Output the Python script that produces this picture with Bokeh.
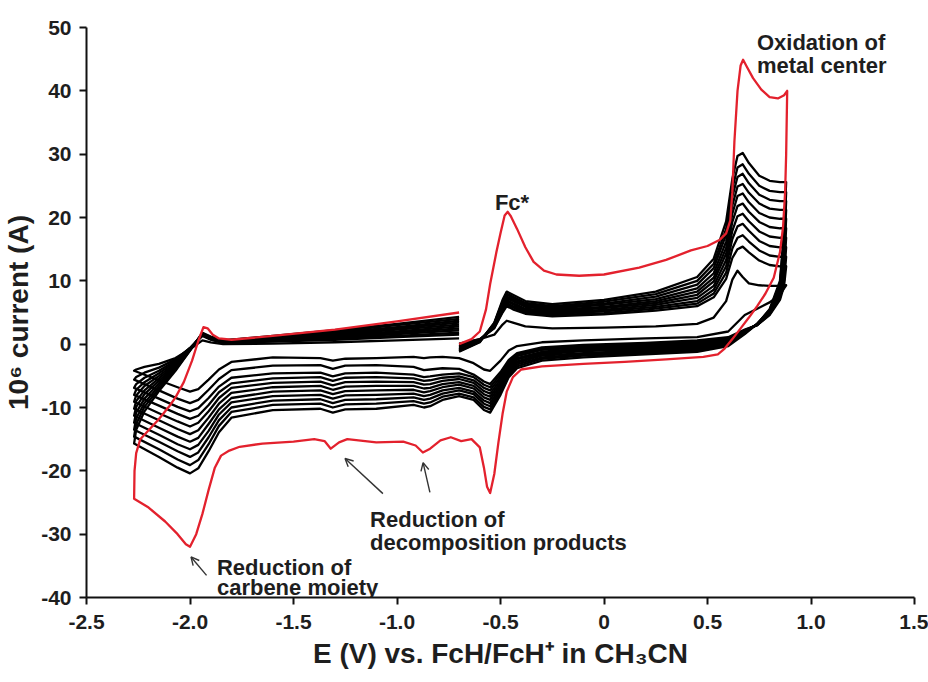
from bokeh.plotting import figure
from bokeh.models import FixedTicker, Arrow, OpenHead, Label
from bokeh.embed import file_html
from bokeh.resources import INLINE

# ---- potential program of the later scans (V vs FcH/FcH+): anodic, cathodic, return sweep
E_ANODIC = [-0.70, -0.60, -0.53, -0.49, -0.47, -0.44, -0.38, -0.25, 0.00, 0.25, 0.45,
            0.53, 0.59, 0.62, 0.645, 0.67, 0.70, 0.75, 0.80, 0.85, 0.88]
E_CATHODIC = [0.87, 0.85, 0.80, 0.74, 0.68, 0.60, 0.45, 0.20, -0.10, -0.30, -0.42, -0.46,
              -0.50, -0.55, -0.58, -0.63, -0.70, -0.78, -0.84, -0.87, -0.92, -1.10, -1.25,
              -1.31, -1.37, -1.60, -1.80, -1.86, -1.91, -1.96, -2.00, -2.06, -2.15, -2.27]
E_RETURN = [-2.26, -2.22, -2.15, -2.07, -2.00, -1.94, -1.90, -1.84, -1.60, -1.30, -1.00, -0.70]

# ---- first scan (red): potentials and 10^6 current (A)
RED_E_ANODIC = [-0.70, -0.64, -0.60, -0.57, -0.55, -0.52, -0.50, -0.48, -0.465, -0.45, -0.42,
                -0.38, -0.34, -0.29, -0.23, -0.12, 0.00, 0.17, 0.30, 0.42, 0.50, 0.56, 0.59,
                0.61, 0.62, 0.63, 0.645, 0.66, 0.672, 0.69, 0.72, 0.76, 0.80, 0.84, 0.87, 0.885]
RED_I_ANODIC = [0.0, 0.8, 2.0, 5.5, 9.5, 14.5, 17.5, 20.3, 20.9, 20.2, 18.2,
                15.3, 13.0, 11.6, 11.0, 10.8, 11.0, 12.1, 13.3, 14.8, 15.5, 16.5, 17.5,
                19.5, 24.0, 32.0, 40.0, 44.0, 44.9, 43.8, 42.0, 40.2, 39.0, 38.8, 39.3, 40.0]
RED_E_CATHODIC = [0.88, 0.875, 0.865, 0.85, 0.82, 0.78, 0.74, 0.70, 0.66, 0.62, 0.58, 0.55,
                  0.48, 0.30, 0.10, -0.10, -0.30, -0.40, -0.44, -0.47, -0.49, -0.51, -0.53,
                  -0.55, -0.565, -0.58, -0.60, -0.64, -0.69, -0.74, -0.79, -0.84, -0.875,
                  -0.91, -0.97, -1.10, -1.24, -1.28, -1.32, -1.35, -1.40, -1.50, -1.65, -1.76,
                  -1.81, -1.85, -1.88, -1.91, -1.94, -1.97, -2.00, -2.02, -2.06, -2.12, -2.20,
                  -2.27]
RED_I_CATHODIC = [30.0, 24.0, 18.5, 14.5, 10.5, 8.0, 6.0, 4.2, 2.5, 0.8, -0.8, -1.6,
                  -2.0, -2.4, -2.8, -3.1, -3.5, -4.0, -5.2, -7.5, -11.0, -15.5, -20.5,
                  -23.5, -22.5, -19.5, -16.3, -15.0, -15.3, -14.7, -15.2, -16.5, -17.1,
                  -16.0, -15.4, -15.5, -15.0, -15.5, -16.5, -15.3, -15.0, -15.4, -15.7, -16.2,
                  -16.8, -17.6, -19.5, -23.0, -26.8, -30.0, -32.0, -31.6, -30.0, -28.0, -25.8,
                  -24.4]
RED_E_RETURN = [-2.268, -2.26, -2.24, -2.20, -2.155, -2.10, -2.07, -2.03, -1.99, -1.96,
                -1.935, -1.915, -1.89, -1.86, -1.80, -1.60, -1.30, -1.00, -0.70]
RED_I_RETURN = [-20.0, -17.2, -15.0, -13.6, -12.0, -9.8, -8.4, -6.0, -2.6, 0.5,
                2.7, 2.5, 1.5, 0.9, 0.7, 1.3, 2.3, 3.6, 5.0]

# ---- following scans (black), one row per scan, on the E_ANODIC / E_CATHODIC / E_RETURN grid
BLACK_ANODIC = [
    [-1.2, 0.3, 3.4, 7.0, 8.3, 7.8, 6.8, 6.3, 7.0, 8.3, 10.6, 13.5, 19.4, 26.1, 29.7, 30.2, 28.6, 26.6, 25.8, 25.6, 25.6],
    [-1.1, 0.4, 3.3, 6.7, 8.0, 7.5, 6.5, 6.0, 6.7, 7.9, 10.0, 12.7, 18.2, 24.6, 27.9, 28.4, 26.9, 25.0, 24.2, 24.0, 24.0],
    [-1.0, 0.4, 3.2, 6.5, 7.8, 7.3, 6.3, 5.8, 6.4, 7.5, 9.4, 12.0, 17.3, 23.3, 26.4, 26.9, 25.4, 23.6, 22.8, 22.6, 22.6],
    [-0.9, 0.5, 3.1, 6.3, 7.5, 7.0, 6.1, 5.6, 6.2, 7.1, 8.8, 11.2, 16.2, 21.9, 24.9, 25.3, 23.9, 22.2, 21.4, 21.2, 21.2],
    [-0.8, 0.5, 3.0, 6.1, 7.3, 6.8, 5.9, 5.4, 5.9, 6.8, 8.3, 10.5, 15.2, 20.6, 23.4, 23.8, 22.4, 20.7, 20.0, 19.8, 19.8],
    [-0.7, 0.6, 2.9, 5.8, 7.0, 6.5, 5.6, 5.2, 5.7, 6.5, 7.8, 9.9, 14.3, 19.3, 21.8, 22.2, 20.9, 19.3, 18.5, 18.3, 18.3],
    [-0.5, 0.6, 2.8, 5.6, 6.8, 6.3, 5.4, 5.0, 5.4, 6.2, 7.3, 9.2, 13.3, 17.9, 20.2, 20.6, 19.4, 17.8, 17.0, 16.8, 16.8],
    [-0.4, 0.7, 2.7, 5.4, 6.5, 6.0, 5.2, 4.8, 5.2, 5.9, 6.8, 8.6, 12.3, 16.6, 18.6, 19.0, 17.9, 16.3, 15.5, 15.3, 15.3],
    [-0.3, 0.7, 2.6, 5.2, 6.3, 5.8, 5.0, 4.6, 4.9, 5.6, 6.4, 8.0, 11.3, 15.1, 16.8, 17.2, 16.2, 14.8, 14.0, 13.8, 13.8],
    [-0.1, 0.8, 2.5, 5.0, 6.0, 5.5, 4.8, 4.4, 4.7, 5.3, 6.0, 7.4, 10.3, 13.6, 15.0, 15.4, 14.5, 13.2, 12.5, 12.3, 12.3],
    [0.1, 0.8, 1.5, 3.1, 3.7, 3.4, 2.8, 2.5, 2.6, 2.8, 3.2, 4.2, 6.8, 10.2, 11.6, 10.6, 9.6, 9.3, 9.2, 9.2, 9.3],
]
BLACK_CATHODIC = [
    [18.0, 10.0, 5.5, 3.2, 1.6, -0.3, -1.2, -1.6, -2.1, -2.6, -3.8, -5.2, -8.0, -10.8, -10.4, -8.8, -8.2, -8.8, -9.8, -10.0, -9.6, -10.2, -10.3, -10.8, -10.2, -10.4, -11.6, -13.9, -16.9, -19.6, -20.4, -19.5, -17.8, -15.7],
    [17.0, 9.6, 5.4, 3.2, 1.7, -0.1, -1.0, -1.4, -1.8, -2.3, -3.5, -4.9, -7.6, -10.3, -9.9, -8.4, -7.8, -8.3, -9.2, -9.4, -9.0, -9.4, -9.5, -10.0, -9.4, -9.6, -10.7, -12.9, -15.8, -18.3, -19.1, -18.2, -16.6, -14.6],
    [16.0, 9.2, 5.3, 3.2, 1.8, 0.0, -0.8, -1.2, -1.6, -2.1, -3.2, -4.6, -7.2, -9.8, -9.4, -7.9, -7.3, -7.8, -8.6, -8.8, -8.4, -8.7, -8.8, -9.3, -8.7, -8.9, -10.0, -12.0, -14.7, -17.1, -17.8, -16.9, -15.4, -13.5],
    [15.0, 8.8, 5.2, 3.2, 1.9, 0.2, -0.6, -1.0, -1.4, -1.8, -2.9, -4.3, -6.8, -9.3, -8.9, -7.5, -6.9, -7.3, -8.0, -8.2, -7.8, -8.0, -8.1, -8.6, -8.0, -8.2, -9.2, -11.1, -13.7, -15.9, -16.6, -15.8, -14.3, -12.4],
    [14.0, 8.5, 5.1, 3.1, 2.0, 0.3, -0.4, -0.8, -1.1, -1.6, -2.7, -4.0, -6.4, -8.8, -8.4, -7.0, -6.4, -6.8, -7.4, -7.6, -7.2, -7.3, -7.4, -7.9, -7.3, -7.5, -8.5, -10.3, -12.6, -14.8, -15.4, -14.6, -13.2, -11.3],
    [13.0, 8.2, 5.0, 3.1, 2.0, 0.5, -0.2, -0.6, -0.9, -1.4, -2.4, -3.7, -6.0, -8.3, -7.9, -6.6, -6.0, -6.3, -6.9, -7.0, -6.6, -6.6, -6.7, -7.2, -6.6, -6.8, -7.7, -9.4, -11.6, -13.6, -14.2, -13.4, -12.0, -10.2],
    [12.0, 7.9, 4.9, 3.1, 2.1, 0.6, 0.0, -0.4, -0.7, -1.2, -2.2, -3.4, -5.6, -7.8, -7.4, -6.1, -5.5, -5.8, -6.3, -6.4, -6.0, -5.9, -6.0, -6.5, -5.9, -6.1, -6.9, -8.5, -10.6, -12.4, -13.0, -12.2, -10.9, -9.1],
    [11.0, 7.6, 4.8, 3.0, 2.2, 0.8, 0.2, -0.2, -0.5, -0.9, -1.9, -3.1, -5.2, -7.3, -6.9, -5.7, -5.1, -5.3, -5.7, -5.8, -5.4, -5.2, -5.3, -5.8, -5.2, -5.4, -6.2, -7.6, -9.6, -11.3, -11.8, -11.0, -9.7, -8.0],
    [10.0, 7.3, 4.7, 3.0, 2.2, 0.9, 0.4, 0.0, -0.3, -0.7, -1.6, -2.8, -4.8, -6.8, -6.4, -5.2, -4.6, -4.8, -5.1, -5.2, -4.8, -4.5, -4.6, -5.1, -4.5, -4.6, -5.3, -6.7, -8.5, -10.1, -10.6, -9.9, -8.6, -6.9],
    [9.2, 7.0, 4.6, 3.0, 2.3, 1.1, 0.6, 0.2, -0.1, -0.5, -1.4, -2.5, -4.4, -6.3, -5.9, -4.8, -3.9, -3.8, -4.0, -4.1, -3.6, -3.3, -3.4, -3.9, -3.3, -3.4, -4.1, -5.5, -7.2, -8.8, -9.3, -8.6, -7.3, -5.6],
    [8.8, 7.8, 6.6, 5.6, 4.6, 2.0, 1.1, 0.9, 0.6, 0.3, -0.3, -1.0, -2.6, -4.2, -4.0, -3.0, -2.2, -2.0, -2.1, -2.2, -2.0, -2.2, -2.3, -2.6, -2.2, -2.1, -2.8, -4.0, -5.6, -7.1, -7.5, -6.8, -5.7, -4.2],
]
BLACK_RETURN = [
    [-13.5, -10.6, -7.4, -4.2, -1.0, 1.8, 1.2, 0.6, 1.3, 2.2, 3.2, 4.3],
    [-12.6, -9.9, -7.0, -4.0, -1.0, 1.7, 1.1, 0.6, 1.2, 2.0, 3.0, 4.0],
    [-11.7, -9.3, -6.6, -3.8, -0.9, 1.7, 1.1, 0.5, 1.1, 1.8, 2.7, 3.7],
    [-10.8, -8.6, -6.2, -3.6, -0.9, 1.6, 1.0, 0.5, 1.0, 1.7, 2.5, 3.4],
    [-9.9, -7.9, -5.8, -3.4, -0.8, 1.6, 1.0, 0.4, 0.9, 1.5, 2.3, 3.1],
    [-9.0, -7.3, -5.4, -3.2, -0.8, 1.5, 0.9, 0.4, 0.8, 1.4, 2.0, 2.8],
    [-8.1, -6.6, -5.0, -3.0, -0.7, 1.5, 0.9, 0.3, 0.7, 1.2, 1.8, 2.5],
    [-7.2, -6.0, -4.6, -2.8, -0.7, 1.4, 0.8, 0.3, 0.6, 1.0, 1.6, 2.2],
    [-6.3, -5.3, -4.2, -2.6, -0.6, 1.4, 0.8, 0.2, 0.5, 0.9, 1.3, 1.8],
    [-5.2, -4.5, -3.7, -2.4, -0.6, 1.3, 0.7, 0.2, 0.4, 0.7, 1.1, 1.5],
    [-4.0, -3.6, -3.1, -2.2, -0.8, 0.6, 0.3, 0.0, 0.1, 0.3, 0.6, 0.9],
]

X_TICKS = [-2.5, -2.0, -1.5, -1.0, -0.5, 0.0, 0.5, 1.0, 1.5]
X_TICK_LABELS = ["-2.5", "-2.0", "-1.5", "-1.0", "-0.5", "0", "0.5", "1.0", "1.5"]
Y_TICKS = [-40, -30, -20, -10, 0, 10, 20, 30, 40, 50]
Y_TICK_LABELS = ["-40", "-30", "-20", "-10", "0", "10", "20", "30", "40", "50"]

X_LABEL = "E (V) vs. FcH/FcH\u207a in CH\u2083CN"
Y_LABEL = "10\u2076 current (A)"

FONT = "Liberation Sans"
INK = "#1e1e1e"
RED = "#e3212d"

p = figure(width=928, height=682, x_range=(-2.5, 1.5), y_range=(-40, 50),
           output_backend="svg", toolbar_location=None,
           min_border_left=86, min_border_right=14, min_border_top=27, min_border_bottom=85)
p.outline_line_color = None
p.grid.visible = False
p.background_fill_color = "white"

for ax in (p.xaxis[0], p.yaxis[0]):
    ax.axis_line_width = 2
    ax.axis_line_color = "#111111"
    ax.major_tick_line_width = 2
    ax.major_tick_line_color = "#111111"
    ax.major_tick_in = 0
    ax.major_tick_out = 7
    ax.minor_tick_line_color = None
    ax.major_label_text_font = FONT
    ax.major_label_text_font_style = "bold"
    ax.major_label_text_font_size = "21px"
    ax.major_label_text_color = INK
    ax.axis_label_text_font = FONT
    ax.axis_label_text_font_style = "bold"
    ax.axis_label_text_font_size = "28px"
    ax.axis_label_text_color = INK

p.xaxis.ticker = FixedTicker(ticks=X_TICKS)
p.xaxis.major_label_overrides = dict(zip(X_TICKS, X_TICK_LABELS))
p.yaxis.ticker = FixedTicker(ticks=Y_TICKS)
p.yaxis.major_label_overrides = dict(zip(Y_TICKS, Y_TICK_LABELS))
p.xaxis.major_label_standoff = 10
p.yaxis.major_label_standoff = 8
p.xaxis.axis_label = X_LABEL
p.yaxis.axis_label = Y_LABEL
p.xaxis.axis_label_standoff = 6
p.yaxis.axis_label_standoff = 4

E_SCAN = E_ANODIC + E_CATHODIC + E_RETURN
for a, c, r in zip(BLACK_ANODIC, BLACK_CATHODIC, BLACK_RETURN):
    p.line(E_SCAN, a + c + r, line_color="black", line_width=2.3, line_join="round")

p.line(RED_E_ANODIC + RED_E_CATHODIC + RED_E_RETURN,
       RED_I_ANODIC + RED_I_CATHODIC + RED_I_RETURN,
       line_color=RED, line_width=2.3, line_join="round")

def add_text(x, y, t):
    p.add_layout(Label(x=x, y=y, text=t, text_font=FONT, text_font_style="bold",
                       text_font_size="22px", text_color=INK, text_baseline="alphabetic"))

add_text(-0.527, 22.4, "Fc*")
add_text(0.739, 47.6, "Oxidation of")
add_text(0.739, 44.0, "metal center")
add_text(-1.13, -27.7, "Reduction of")
add_text(-1.13, -31.3, "decomposition products")
add_text(-1.87, -35.2, "Reduction of")
add_text(-1.87, -38.4, "carbene moiety")

for xs, ys, xe, ye in [(-1.92, -36.5, -1.995, -33.6),
                       (-1.068, -23.6, -1.251, -18.05),
                       (-0.841, -23.4, -0.874, -18.7)]:
    p.add_layout(Arrow(end=OpenHead(size=8, line_width=1.4, line_color="#333333"),
                       x_start=xs, y_start=ys, x_end=xe, y_end=ye,
                       line_width=1.4, line_color="#333333"))

open("out.html", "w").write(file_html(p, INLINE))
